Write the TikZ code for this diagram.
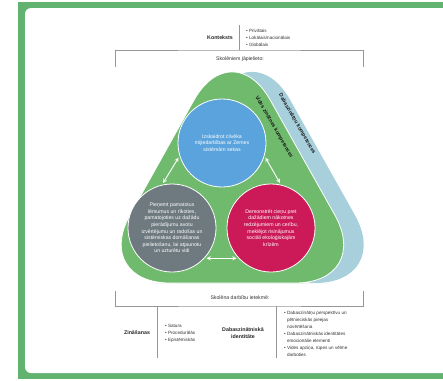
\documentclass[tikz,border=0pt]{standalone}
\usepackage{fontspec}
\setmainfont{Liberation Sans}
\usetikzlibrary{calc, shapes, arrows}
\definecolor{framegreen}{RGB}{98,178,112}
\definecolor{leafgreen}{RGB}{112,186,110}
\definecolor{skyband}{RGB}{168,208,220}
\definecolor{earthblue}{RGB}{90,163,220}
\definecolor{slategrey}{RGB}{110,121,128}
\definecolor{berry}{RGB}{204,26,88}
\definecolor{rulegrey}{RGB}{150,150,150}
\newcommand{\dotitem}{\textbullet\ }

\begin{document}
\begin{tikzpicture}[x=1pt,y=-1pt]
\tikzstyle{bluedot}=[circle,fill=earthblue,draw=white,line width=0.8pt,minimum size=88pt,inner sep=0pt,text=white,align=center,font=\fontsize{5.2}{6.6}\selectfont]
\tikzstyle{greydot}=[bluedot,fill=slategrey]
\tikzstyle{reddot}=[bluedot,fill=berry]
\tikzstyle{head}=[inner sep=1pt,align=center,text=black!85,font=\fontsize{5.3}{7}\selectfont\bfseries]
\tikzstyle{plain}=[inner sep=1pt,align=center,text=black!80,font=\fontsize{5.2}{7}\selectfont]
\tikzstyle{bullets}=[inner sep=1pt,align=left,anchor=west,text=black!80,font=\fontsize{4.6}{7}\selectfont]
\tikzstyle{band}=[inner sep=0pt,rotate=-60,text=black!90,font=\fontsize{5.2}{6}\selectfont\bfseries]
\tikzstyle{rule}=[rulegrey,line width=0.6pt]
\tikzstyle{twoway}=[<->,>=stealth,white,line width=0.9pt,shorten <=2pt,shorten >=2pt]

\useasboundingbox (0,0) rectangle (443,380);
% frame
\fill[framegreen] (18,2) rectangle (443,379);
\fill[white,rounded corners=6pt] (25,8) rectangle (470,373);

% context on top
\node[head] (context) at (220,38) {Konteksts};
\node[bullets] (contextlist) at (245,38) {\dotitem Privātais\\\dotitem Lokālais/nacionālais\\\dotitem Globālais};
\coordinate (ctop) at (239,25);
\coordinate (cbot) at (239,50);
\draw[rule] (ctop) -- (cbot);
\coordinate (tl) at (115,67);
\coordinate (tr) at (363,67);
\draw[rule] (tl) |- (cbot) -| (tr);
\node[plain] (mustdo) at (240,59) {Skolēniem jāpielieto:};

% competence bands
\fill[skyband,rounded corners=78pt] (252,283) -- (393,283) -- (252,32) -- (112,283) -- cycle;
\filldraw[leafgreen,draw=white,line width=0.8pt,rounded corners=78pt] (232,283) -- (373,283) -- (232,32) -- (92,283) -- cycle;
\node[band] (envband) at (274,127) {Vides zinātnes kompetences};
\node[band] (sciband) at (297,124) {Dabaszinātņu kompetences};

% three circles
\node[bluedot] (impact) at (222,143) {Izskaidrot cilvēka\\mijiedarbības ar Zemes\\sistēmām sekas};
\node[greydot] (decide) at (172,228) {Pieņemt pamatotus\\lēmumus un rīkoties,\\pamatojoties uz dažādu\\pierādījumu avotu\\izvērtējumu un radošas un\\sistēmiskas domāšanas\\pielietošanu, lai atjaunotu\\un uzturētu vidi};
\node[reddot] (respect) at (271,228) {Demonstrēt cieņu pret\\dažādiem nākotnes\\redzējumiem un cerību,\\meklējot risinājumus\\sociāli ekoloģiskajām\\krīzēm};
\draw[twoway] (impact.197) -- (decide.103);
\draw[twoway] (impact.343) -- (respect.77);
\draw[twoway] (decide.-43) -- (respect.223);

% what shapes the student
\coordinate (bl) at (115,291);
\coordinate (br) at (363,291);
\coordinate (bmid) at (240,306);
\draw[rule] (bl) |- (bmid) -| (br);
\node[plain] (shapedby) at (240,298) {Skolēna darbību ietekmē:};
\coordinate (d1top) at (157,306);
\coordinate (d1bot) at (157,358);
\coordinate (d2top) at (276,306);
\coordinate (d2bot) at (276,358);
\draw[rule] (d1top) -- (d1bot);
\draw[rule] (d2top) -- (d2bot);
\node[head] (knowledge) at (137,333) {Zināšanas};
\node[bullets] (knowlist) at (164,333) {\dotitem Satura\\\dotitem Procedurālās\\\dotitem Epistēmiskās};
\node[head] (identity) at (243,333) {Dabaszinātniskā\\identitāte};
\node[bullets] (identlist) at (283,333.5) {\dotitem Dabaszinātņu perspektīvu un\\\phantom{\dotitem}pētnieciskās pieejas\\\phantom{\dotitem}novērtēšana\\\dotitem Dabaszinātniskās identitātes\\\phantom{\dotitem}emocionālie elementi\\\dotitem Vides apziņa, rūpes un vēlme\\\phantom{\dotitem}darboties};
\end{tikzpicture}
\end{document}
